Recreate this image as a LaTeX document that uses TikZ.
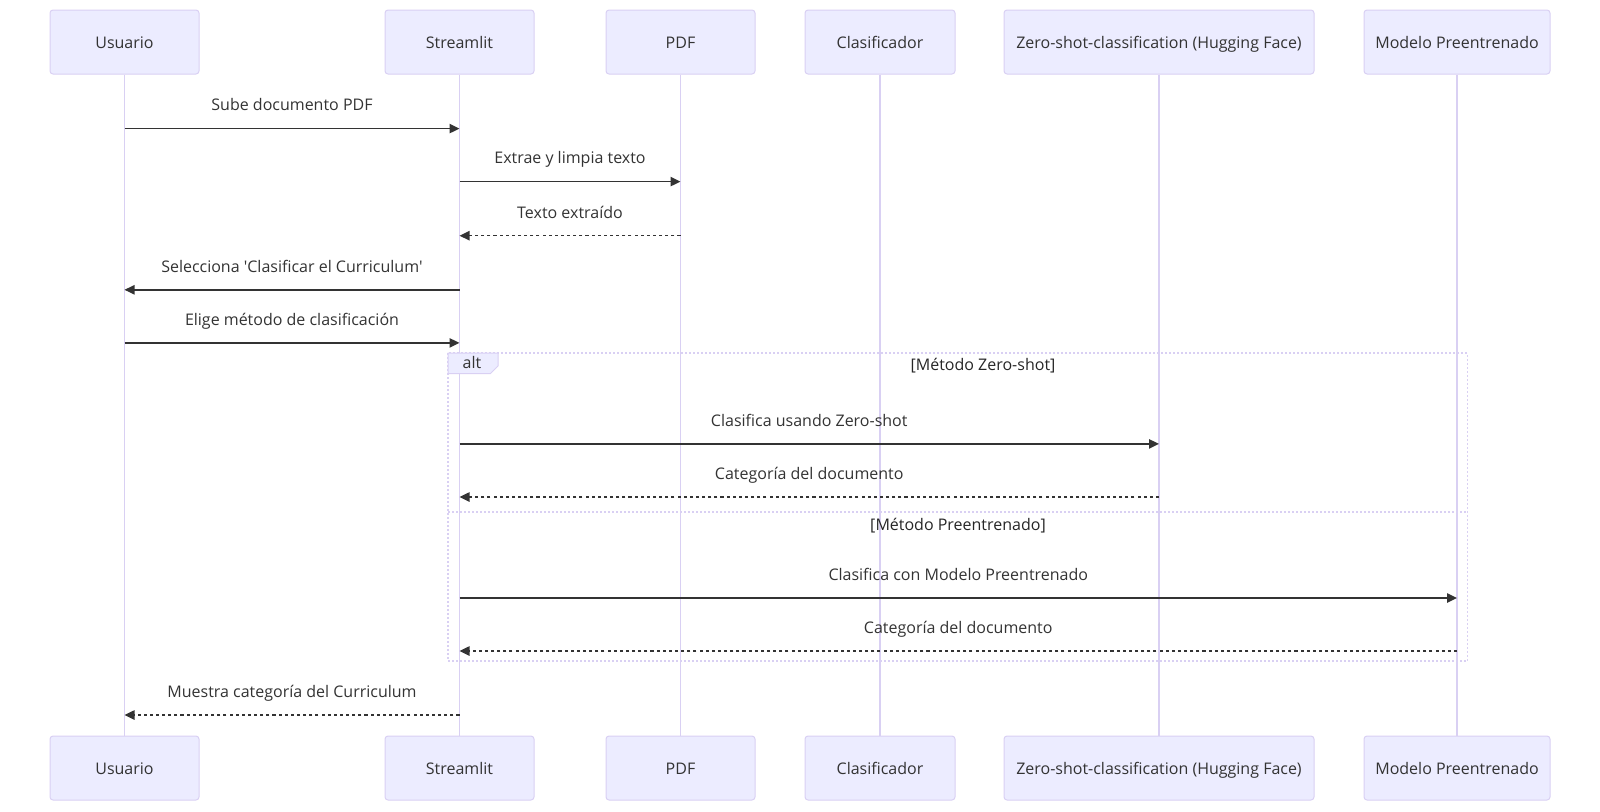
\documentclass[tikz,border=0pt]{standalone}
\usepackage{fontspec}
\setmainfont{Open Sans}
\usetikzlibrary{arrows.meta,calc}
\definecolor{actfill}{HTML}{ECECFF}
\definecolor{actline}{HTML}{D9D0F3}
\definecolor{txt}{HTML}{333333}
\begin{document}
\begin{tikzpicture}[x=0.75pt,y=-0.75pt,font=\fontsize{12}{14}\selectfont,
  actor/.style={draw=actline,fill=actfill,rounded corners=2.25pt,line width=0.75pt,minimum height=48pt,text=txt,inner sep=0pt,text height=10.5pt,text depth=1pt},
  life/.style={draw=actline,line width=1.1pt},
  msg/.style={draw=txt,line width=1.1pt,-{Triangle[length=7.5pt,width=7pt]}},
  reply/.style={msg,dash pattern=on 2.3pt off 2.3pt},
  lbl/.style={text=txt,inner sep=0pt,text height=9pt,text depth=2.5pt,yshift=16.5pt},
  altline/.style={draw=actline,line width=1.4pt,dash pattern=on 1.5pt off 1.5pt},
  sect/.style={text=black!85,inner sep=0pt,text height=9pt,text depth=2.5pt}
]
\useasboundingbox (0,0) rectangle (1600,811);
% actors top
\node[actor,minimum width=111.75pt] (u1) at (124.5,42) {Usuario};
\node[actor,minimum width=111.75pt] (s1) at (459.5,42) {Streamlit};
\node[actor,minimum width=111.75pt] (p1) at (680.5,42) {PDF};
\node[actor,minimum width=112.5pt] (c1) at (880,42) {Clasificador};
\node[actor,minimum width=232.5pt] (z1) at (1159,42) {Zero-shot-classification (Hugging Face)};
\node[actor,minimum width=139.5pt] (m1) at (1457,42) {Modelo Preentrenado};
% actors bottom
\node[actor,minimum width=111.75pt] (u2) at (124.5,768) {Usuario};
\node[actor,minimum width=111.75pt] (s2) at (459.5,768) {Streamlit};
\node[actor,minimum width=111.75pt] (p2) at (680.5,768) {PDF};
\node[actor,minimum width=112.5pt] (c2) at (880,768) {Clasificador};
\node[actor,minimum width=232.5pt] (z2) at (1159,768) {Zero-shot-classification (Hugging Face)};
\node[actor,minimum width=139.5pt] (m2) at (1457,768) {Modelo Preentrenado};
% lifelines
\foreach \a in {u,s,p,c,z,m} {\draw[life] (\a1) -- (\a2);}
% alt frame
\draw[altline] (448,353) rectangle (1467.5,661);
\draw[altline] (448,512) -- (1467.5,512);
\draw[draw=actline,fill=actfill,line width=0.75pt] (448,353) -- (498,353) -- (498,366) -- (490.5,373.5) -- (448,373.5) -- cycle;
\node[sect,text=txt] (altl) at (472,364) {alt};
\node[sect] (sec1) at (983,366) {[Método Zero-shot]};
\node[sect] (sec2) at (958,526) {[Método Preentrenado]};
% message rows
\coordinate (y1) at (0,128.6);
\coordinate (y2) at (0,181.6);
\coordinate (y3) at (0,235.7);
\coordinate (y4) at (0,289.8);
\coordinate (y5) at (0,342.9);
\coordinate (y6) at (0,443.9);
\coordinate (y7) at (0,497);
\coordinate (y8) at (0,598);
\coordinate (y9) at (0,651);
\coordinate (y10) at (0,715);
\draw[msg] (u1 |- y1) -- node[lbl] {Sube documento PDF} (s1 |- y1);
\draw[msg] (s1 |- y2) -- node[lbl] {Extrae y limpia texto} (p1 |- y2);
\draw[reply] (p1 |- y3) -- node[lbl] {Texto extraído} (s1 |- y3);
\draw[msg] (s1 |- y4) -- node[lbl] {Selecciona \textquotesingle Clasificar el Curriculum\textquotesingle} (u1 |- y4);
\draw[msg] (u1 |- y5) -- node[lbl] {Elige método de clasificación} (s1 |- y5);
\draw[msg] (s1 |- y6) -- node[lbl] {Clasifica usando Zero-shot} (z1 |- y6);
\draw[reply] (z1 |- y7) -- node[lbl] {Categoría del documento} (s1 |- y7);
\draw[msg] (s1 |- y8) -- node[lbl] {Clasifica con Modelo Preentrenado} (m1 |- y8);
\draw[reply] (m1 |- y9) -- node[lbl] {Categoría del documento} (s1 |- y9);
\draw[reply] (s1 |- y10) -- node[lbl] {Muestra categoría del Curriculum} (u1 |- y10);
\end{tikzpicture}
\end{document}
